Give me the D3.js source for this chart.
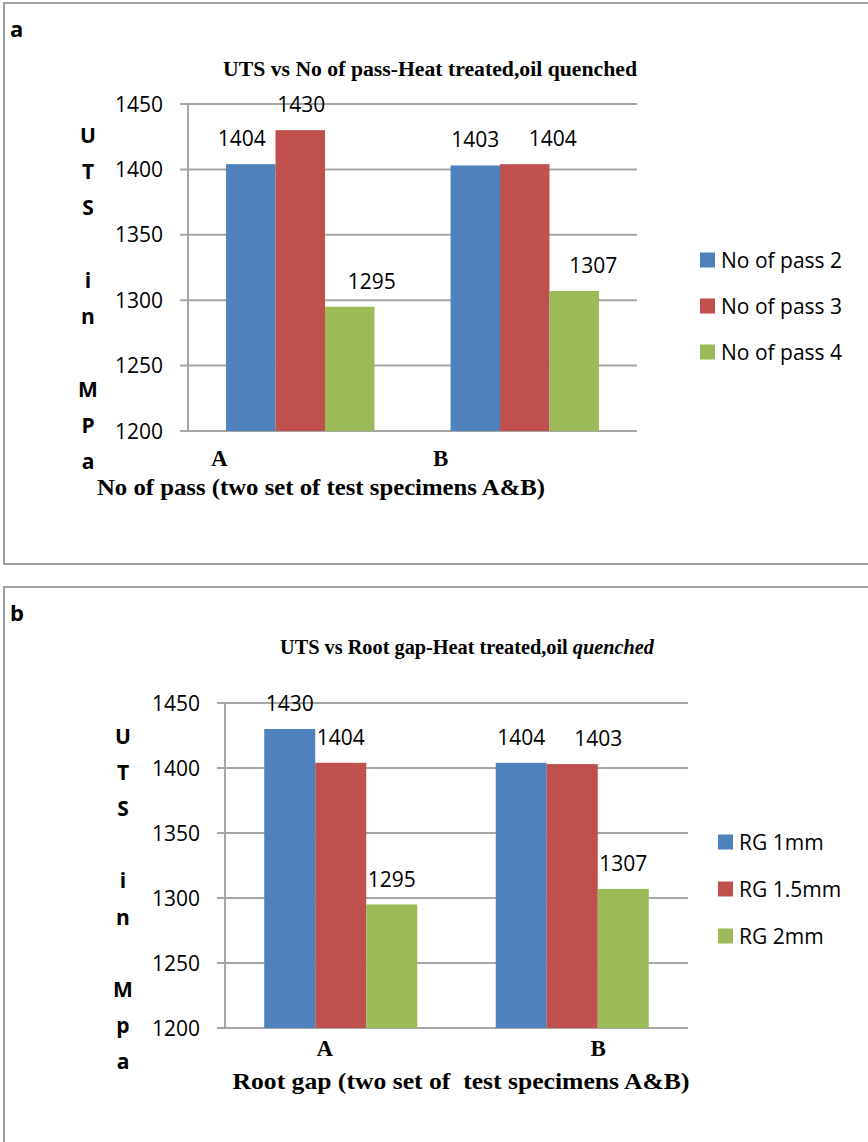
<!DOCTYPE html>
<html>
<head>
<meta charset="utf-8">
<script src="https://cdn.jsdelivr.net/npm/d3@7"></script>
<style>
  html, body { margin: 0; padding: 0; background: #fff; }
  svg { display: block; }
  text { white-space: pre; }
</style>
</head>
<body>
<svg id="chart" width="868" height="1142"></svg>
<script>
// ---------- data ----------
const categories = ["A", "B"];
const yTicks = [1200, 1250, 1300, 1350, 1400, 1450];

// panel a
const passSeries = ["No of pass 2", "No of pass 3", "No of pass 4"];
const pass2 = [1404, 1403];
const pass3 = [1430, 1404];
const pass4 = [1295, 1307];

// panel b
const rgSeries = ["RG 1mm", "RG 1.5mm", "RG 2mm"];
const rg1 = [1430, 1404];
const rg15 = [1404, 1403];
const rg2 = [1295, 1307];

// ---------- layout / style ----------
const colors = ["#4F81BD", "#C0504D", "#9BBB59"];
const sansFont = "'Open Sans', 'Liberation Sans', sans-serif";
const serifFont = "'Liberation Serif', 'Times New Roman', serif";
const gridColor = "#A6A6A6";

const svg = d3.select("#chart");

function drawPanel(cfg) {
  const g = svg.append("g");

  // panel frame
  g.append("rect")
    .attr("x", cfg.frame.x).attr("y", cfg.frame.y)
    .attr("width", cfg.frame.w).attr("height", cfg.frame.h)
    .attr("fill", "none").attr("stroke", "#A0A0A0").attr("stroke-width", 2);

  g.append("text")
    .attr("x", cfg.tag.x).attr("y", cfg.tag.y)
    .attr("font-family", sansFont).attr("font-weight", "bold")
    .attr("font-size", 22).attr("fill", "#000")
    .text(cfg.tag.text);

  const y = d3.scaleLinear().domain([1200, 1450]).range([cfg.plot.y1, cfg.plot.y0]);
  const x = d3.scaleBand().domain(categories)
    .range([cfg.plot.x0, cfg.plot.x1])
    .paddingInner(0.339).paddingOuter(0.1695);
  const xs = d3.scaleBand().domain(d3.range(cfg.series.length))
    .range([0, x.bandwidth()]).padding(0);

  // gridlines
  g.append("g").selectAll("line").data(yTicks).join("line")
    .attr("x1", cfg.plot.x0 - 8).attr("x2", cfg.plot.x1)
    .attr("y1", d => y(d)).attr("y2", d => y(d))
    .attr("stroke", gridColor).attr("stroke-width", 2);

  // y axis line
  g.append("line")
    .attr("x1", cfg.plot.x0).attr("x2", cfg.plot.x0)
    .attr("y1", y(1450)).attr("y2", y(1200))
    .attr("stroke", gridColor).attr("stroke-width", 2);

  // y tick labels
  g.append("g").selectAll("text").data(yTicks).join("text")
    .attr("x", cfg.plot.x0 - 25).attr("y", d => y(d))
    .attr("dy", "0.36em").attr("text-anchor", "end")
    .attr("font-family", sansFont).attr("font-size", 21).attr("fill", "#000")
    .text(d => d);

  // bars
  const rows = [];
  categories.forEach((c, ci) => {
    cfg.values.forEach((vals, si) => {
      rows.push({ cat: c, ci, si, v: vals[ci] });
    });
  });

  g.append("g").selectAll("rect").data(rows).join("rect")
    .attr("x", d => x(d.cat) + xs(d.si))
    .attr("width", xs.bandwidth())
    .attr("y", d => y(d.v))
    .attr("height", d => y(1200) - y(d.v))
    .attr("fill", d => colors[d.si]);

  // data labels
  g.append("g").selectAll("text").data(rows).join("text")
    .attr("x", d => x(d.cat) + xs(d.si) + xs.bandwidth() / 2 + cfg.labelNudge[d.ci][d.si])
    .attr("y", d => y(d.v) - 18)
    .attr("text-anchor", "middle")
    .attr("font-family", sansFont).attr("font-size", 21).attr("fill", "#000")
    .text(d => d.v);

  // category labels
  g.append("g").selectAll("text").data(categories).join("text")
    .attr("x", (d, i) => x(d) + x.bandwidth() / 2 + cfg.catNudge[i])
    .attr("y", cfg.catY)
    .attr("text-anchor", "middle")
    .attr("font-family", serifFont).attr("font-weight", "bold")
    .attr("font-size", 23).attr("fill", "#000")
    .text(d => d);

  // y-axis title (stacked letters)
  g.append("g").selectAll("text").data(cfg.yTitle).join("text")
    .attr("x", cfg.yTitleX).attr("y", (d, i) => cfg.yTitleY0 + i * cfg.yTitleStep)
    .attr("dy", "0.36em").attr("text-anchor", "middle")
    .attr("font-family", sansFont).attr("font-weight", "bold")
    .attr("font-size", 21).attr("fill", "#000")
    .text(d => d);

  // chart title
  const t = g.append("text")
    .attr("x", cfg.title.cx).attr("y", cfg.title.y)
    .attr("text-anchor", "middle")
    .attr("font-family", serifFont).attr("font-weight", "bold")
    .attr("font-size", 20).attr("fill", "#000")
    .attr("textLength", cfg.title.w).attr("lengthAdjust", "spacingAndGlyphs");
  cfg.title.parts.forEach(p => {
    t.append("tspan").attr("font-style", p.italic ? "italic" : "normal").text(p.text);
  });

  // x-axis title
  g.append("text")
    .attr("x", cfg.xTitle.cx).attr("y", cfg.xTitle.y)
    .attr("text-anchor", "middle")
    .attr("font-family", serifFont).attr("font-weight", "bold")
    .attr("font-size", 24).attr("fill", "#000")
    .attr("textLength", cfg.xTitle.w).attr("lengthAdjust", "spacingAndGlyphs")
    .text(cfg.xTitle.text);

  // legend
  const lg = g.append("g").selectAll("g").data(cfg.series).join("g")
    .attr("transform", (d, i) => `translate(${cfg.legend.x},${cfg.legend.y0 + i * cfg.legend.step})`);
  lg.append("rect").attr("x", 0).attr("y", -7.5).attr("width", 15).attr("height", 15)
    .attr("fill", (d, i) => colors[i]);
  lg.append("text").attr("x", 21).attr("y", 0).attr("dy", "0.36em")
    .attr("font-family", sansFont).attr("font-size", 21).attr("fill", "#000")
    .text(d => d);
}

drawPanel({
  frame: { x: 4, y: 3, w: 880, h: 561 },
  tag: { x: 10, y: 37, text: "a" },
  plot: { x0: 188, x1: 637, y0: 104, y1: 431 },
  series: passSeries,
  values: [pass2, pass3, pass4],
  labelNudge: [[-9, 1, 22], [0, 28, 19]],
  catNudge: [-81, -84],
  catY: 466,
  yTitle: ["U", "T", "S", "", "i", "n", "", "M", "P", "a"],
  yTitleX: 88, yTitleY0: 135, yTitleStep: 36.3,
  title: { cx: 430, y: 76, w: 414, parts: [{ text: "UTS vs No of pass-Heat treated,oil quenched" }] },
  xTitle: { cx: 321, y: 495, w: 448, text: "No of pass (two set of test specimens A&B)" },
  legend: { x: 700, y0: 260, step: 46 }
});

drawPanel({
  frame: { x: 4, y: 587, w: 880, h: 600 },
  tag: { x: 10, y: 621, text: "b" },
  plot: { x0: 225, x1: 688, y0: 703, y1: 1028 },
  series: rgSeries,
  values: [rg1, rg15, rg2],
  labelNudge: [[0, 0, 0], [0, 26, 0]],
  catNudge: [-16, 26],
  catY: 1056,
  yTitle: ["U", "T", "S", "", "i", "n", "", "M", "p", "a"],
  yTitleX: 123, yTitleY0: 736, yTitleStep: 36.2,
  title: { cx: 467, y: 654, w: 374, parts: [{ text: "UTS vs Root gap-Heat treated,oil " }, { text: "quenched", italic: true }] },
  xTitle: { cx: 461, y: 1089, w: 457, text: "Root gap (two set of  test specimens A&B)" },
  legend: { x: 718, y0: 842, step: 47 }
});
</script>
</body>
</html>
